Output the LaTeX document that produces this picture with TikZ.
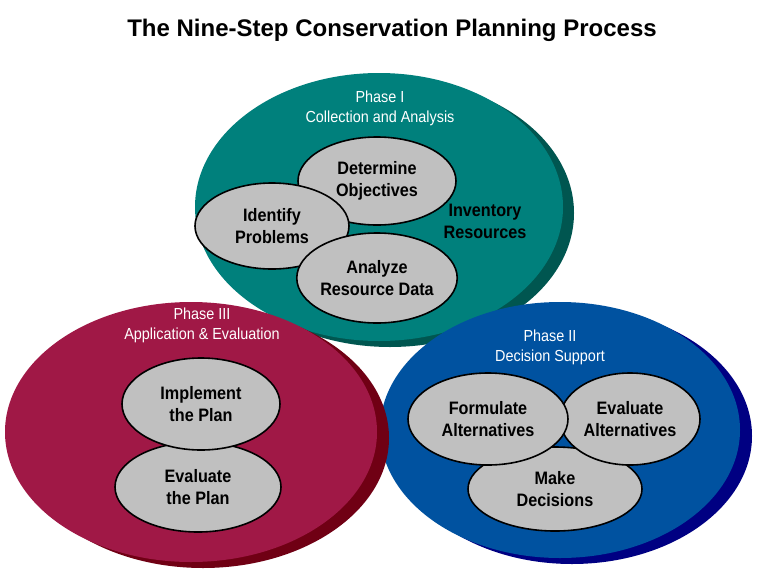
\documentclass[tikz,border=0pt]{standalone}
\usepackage{fontspec}
\setmainfont{Liberation Sans}[FakeStretch=0.9]
\newfontfamily\titlefont{Liberation Sans}
\usetikzlibrary{shapes.geometric}
\definecolor{tealmain}{RGB}{0,128,124}
\definecolor{tealshad}{RGB}{0,86,80}
\definecolor{redmain}{RGB}{160,24,70}
\definecolor{redshad}{RGB}{112,0,20}
\definecolor{bluemain}{RGB}{0,82,160}
\definecolor{blueshad}{RGB}{0,0,130}
\definecolor{stepgray}{RGB}{192,192,192}
\tikzset{
  phasebig/.style={ellipse, inner sep=0pt, draw=none},
  stepoval/.style={ellipse, inner sep=0pt, draw=black, line width=1.6pt, fill=stepgray,
    align=center, font=\bfseries\fontsize{18}{22}\selectfont, text=black},
  phaselabel/.style={align=center, font=\fontsize{16}{20}\selectfont, text=white, inner sep=0pt},
  freetext/.style={align=center, font=\bfseries\fontsize{18}{22}\selectfont, text=black, inner sep=0pt}
}
\begin{document}
\begin{tikzpicture}[x=1pt, y=-1pt]
\useasboundingbox[fill=white] (0,0) rectangle (766,576);
\node[font=\titlefont\bfseries\fontsize{24}{28}\selectfont, inner sep=0pt] (title) at (392,30) {The Nine-Step Conservation Planning Process};
% Phase I (teal)
\node[phasebig, fill=tealshad, minimum width=368pt, minimum height=268pt] (p1s) at (390,213) {};
\node[phasebig, fill=tealmain, minimum width=368pt, minimum height=268pt] (p1) at (379,207) {};
% Phase II (blue)
\node[phasebig, fill=blueshad, minimum width=360pt, minimum height=256pt] (p2s) at (572,436) {};
\node[phasebig, fill=bluemain, minimum width=360pt, minimum height=256pt] (p2) at (560,430) {};
% Phase III (red)
\node[phasebig, fill=redshad, minimum width=372pt, minimum height=260pt] (p3s) at (203,438) {};
\node[phasebig, fill=redmain, minimum width=372pt, minimum height=260pt] (p3) at (191,432) {};
% labels
\node[phaselabel] (l1) at (380,108) {Phase I\\Collection and Analysis};
\node[phaselabel] (l3) at (202,325) {Phase III\\Application \& Evaluation};
\node[phaselabel] (l2) at (550,347) {Phase II\\Decision Support};
% Phase I steps
\node[stepoval, minimum width=158pt, minimum height=88pt] (det) at (377,181) {Determine\\Objectives};
\node[stepoval, minimum width=154pt, minimum height=86pt] (idp) at (272,226) {Identify\\Problems};
\node[stepoval, minimum width=158pt, minimum height=90pt] (ana) at (377,278) {Analyze\\Resource Data};
\node[freetext] (inv) at (485,221) {Inventory\\Resources};
% Phase III steps
\node[stepoval, minimum width=166pt, minimum height=90pt] (evp) at (198,487) {Evaluate\\the Plan};
\node[stepoval, minimum width=158pt, minimum height=92pt] (imp) at (201,404) {Implement\\the Plan};
% Phase II steps
\node[stepoval, minimum width=174pt, minimum height=84pt] (mak) at (555,489) {Make\\Decisions};
\node[stepoval, minimum width=140pt, minimum height=92pt] (eva) at (630,419) {Evaluate\\Alternatives};
\node[stepoval, minimum width=160pt, minimum height=92pt] (frm) at (488,419) {Formulate\\Alternatives};
\end{tikzpicture}
\end{document}
